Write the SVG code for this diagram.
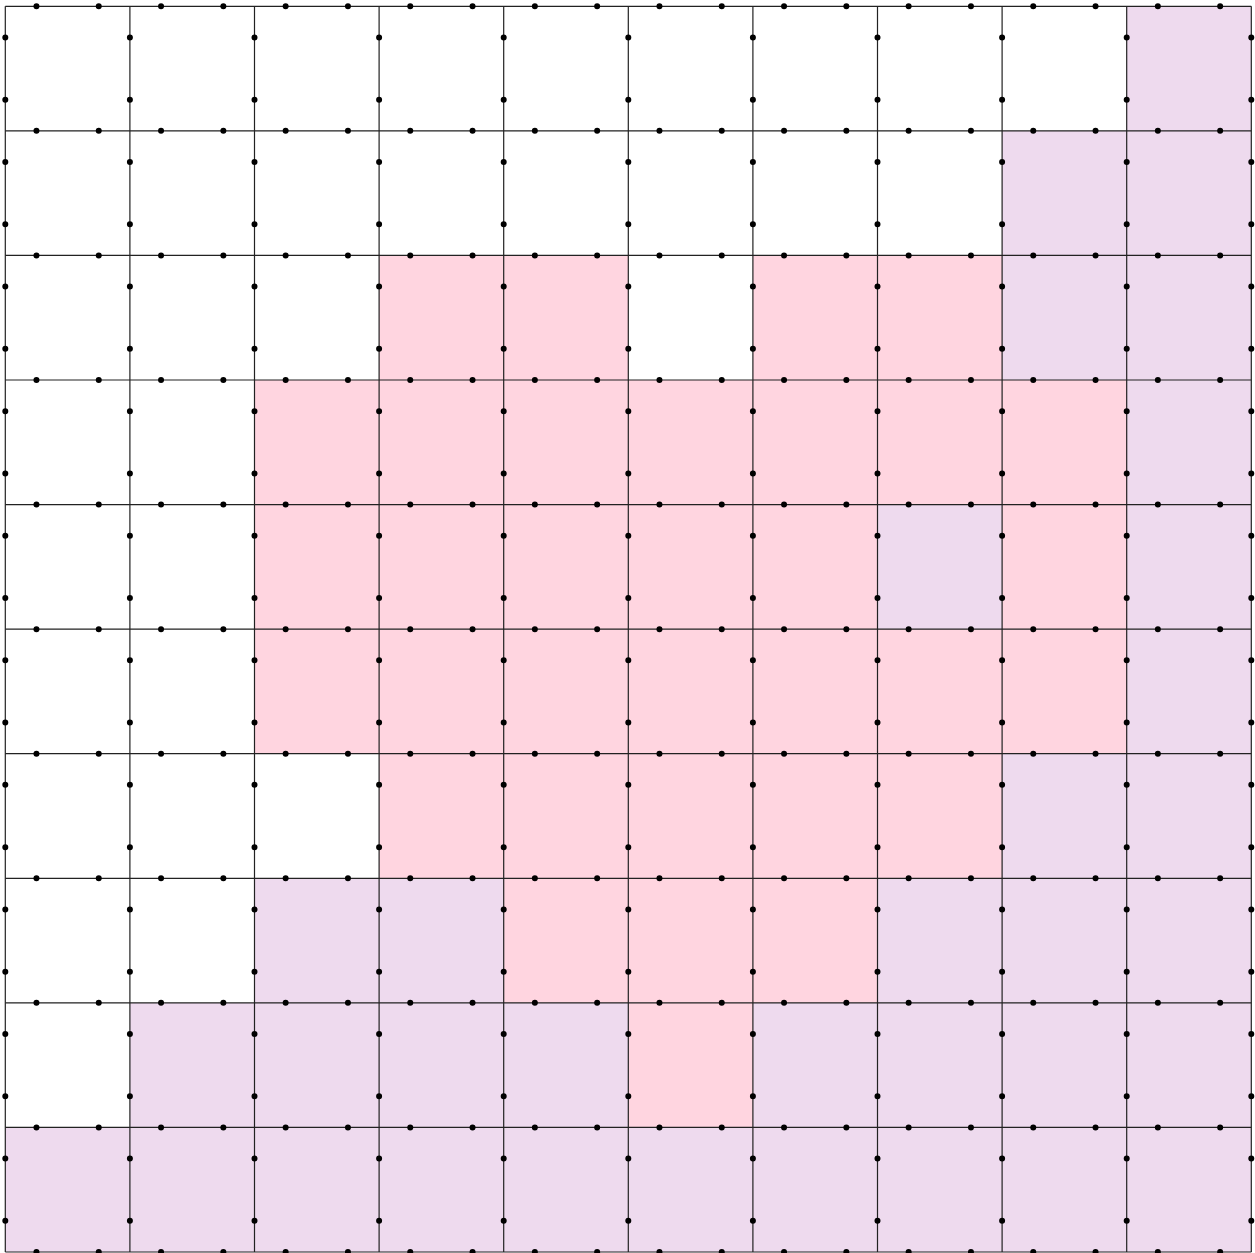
<svg xmlns="http://www.w3.org/2000/svg" width="1255" height="1253" viewBox="0 0 1255 1253">
<style>
.pink{fill:#FFD5E0}
.lav{fill:#EEDAEE}
.grid{stroke:#222;stroke-width:1.2;fill:none}
.dh{stroke:#000;stroke-width:6;stroke-linecap:round;stroke-dasharray:0 62.3;fill:none}
.dv{stroke:#000;stroke-width:6;stroke-linecap:round;stroke-dasharray:0 62.285;fill:none}
</style>
<rect width="1255" height="1253" fill="#fff"/>
<g id="cells" transform="translate(5.3,6.3) scale(124.6,124.57)" shape-rendering="crispEdges">
<g id="pink-cells" class="pink">
<rect x="3" y="2" width="2" height="1"/>
<rect x="6" y="2" width="2" height="1"/>
<rect x="2" y="3" width="7" height="1"/>
<rect x="2" y="4" width="5" height="1"/>
<rect x="8" y="4" width="1" height="1"/>
<rect x="2" y="5" width="7" height="1"/>
<rect x="3" y="6" width="5" height="1"/>
<rect x="4" y="7" width="3" height="1"/>
<rect x="5" y="8" width="1" height="1"/>
</g>
<g id="lavender-cells" class="lav">
<rect x="9" y="0" width="1" height="1"/>
<rect x="8" y="1" width="2" height="1"/>
<rect x="8" y="2" width="2" height="1"/>
<rect x="9" y="3" width="1" height="1"/>
<rect x="7" y="4" width="1" height="1"/>
<rect x="9" y="4" width="1" height="1"/>
<rect x="9" y="5" width="1" height="1"/>
<rect x="8" y="6" width="2" height="1"/>
<rect x="2" y="7" width="2" height="1"/>
<rect x="7" y="7" width="3" height="1"/>
<rect x="1" y="8" width="4" height="1"/>
<rect x="6" y="8" width="4" height="1"/>
<rect x="0" y="9" width="10" height="1"/>
</g>
</g>
<g id="grid" class="grid">
<path d="M5.3 6.3H1251.3M5.3 130.87H1251.3M5.3 255.44H1251.3M5.3 380.01H1251.3M5.3 504.58H1251.3M5.3 629.15H1251.3M5.3 753.72H1251.3M5.3 878.29H1251.3M5.3 1002.86H1251.3M5.3 1127.43H1251.3M5.3 1252H1251.3"/>
<path d="M5.3 6.3V1252M129.9 6.3V1252M254.5 6.3V1252M379.1 6.3V1252M503.7 6.3V1252M628.3 6.3V1252M752.9 6.3V1252M877.5 6.3V1252M1002.1 6.3V1252M1126.7 6.3V1252M1251.3 6.3V1252"/>
</g>
<g id="dots">
<g class="dh">
<path d="M36.45 6.3H1230"/>
<path d="M36.45 130.87H1230"/>
<path d="M36.45 255.44H1230"/>
<path d="M36.45 380.01H1230"/>
<path d="M36.45 504.58H1230"/>
<path d="M36.45 629.15H1230"/>
<path d="M36.45 753.72H1230"/>
<path d="M36.45 878.29H1230"/>
<path d="M36.45 1002.86H1230"/>
<path d="M36.45 1127.43H1230"/>
<path d="M36.45 1252H1230"/>
</g>
<g class="dv">
<path d="M5.3 37.44V1230"/>
<path d="M129.9 37.44V1230"/>
<path d="M254.5 37.44V1230"/>
<path d="M379.1 37.44V1230"/>
<path d="M503.7 37.44V1230"/>
<path d="M628.3 37.44V1230"/>
<path d="M752.9 37.44V1230"/>
<path d="M877.5 37.44V1230"/>
<path d="M1002.1 37.44V1230"/>
<path d="M1126.7 37.44V1230"/>
<path d="M1251.3 37.44V1230"/>
</g>
</g>
</svg>
